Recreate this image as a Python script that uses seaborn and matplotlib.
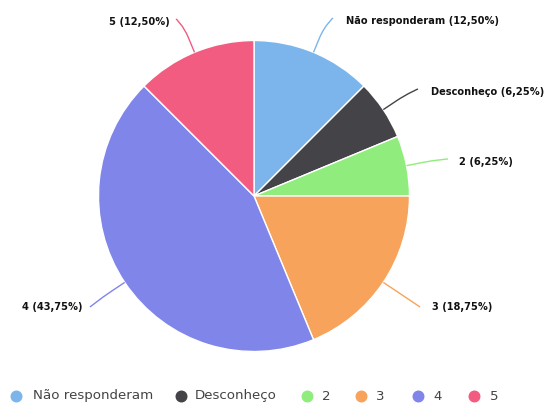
import matplotlib
matplotlib.use("Agg")
import matplotlib.pyplot as plt
from matplotlib.path import Path
from matplotlib.patches import PathPatch
from matplotlib.lines import Line2D
import numpy as np
import seaborn as sns

# ---- data ----
categories = ["Não responderam", "Desconheço", "2", "3", "4", "5"]
percentages = [12.5, 6.25, 6.25, 18.75, 43.75, 12.5]
colors_hex = ["#7cb5ec", "#434348", "#90ed7d", "#f7a35c", "#8085e9", "#f15c80"]

sns.set_theme(style="white")
plt.rcParams['font.family'] = ['DejaVu Sans']
palette = sns.color_palette(colors_hex)

W, H = 544, 403
fig = plt.figure(figsize=(W / 100, H / 100), dpi=100)
ax = fig.add_axes([0, 0, 1, 1])

def P(x, y):
    return (x, H - y)

cx, cy = 254, 196
R = 155.5
ax.pie(percentages, colors=palette, startangle=90, counterclock=False,
       center=P(cx, cy), radius=R,
       wedgeprops=dict(edgecolor="white", linewidth=1))
ax.set_xlim(0, W)
ax.set_ylim(0, H)
ax.set_aspect("equal")
ax.axis("off")

# label layout (pixel coords): connector anchor, text pos, alignment
anchors = [(333, 18), (418, 89), (448, 159), (420, 307), (90, 307), (176, 19)]
text_pos = [(346, 21), (431, 92), (459, 162), (432, 307), (83, 307), (170, 22)]
aligns = ["left", "left", "left", "left", "right", "right"]

total = sum(percentages)
start = 0.0
for i, v in enumerate(percentages):
    mid = start + v / total * 360 / 2
    start += v / total * 360
    a = np.deg2rad(mid)
    dx, dy = np.sin(a), -np.cos(a)
    E = (cx + R * dx, cy + R * dy)
    B = (cx + (R + 15) * dx, cy + (R + 15) * dy)
    L = anchors[i]
    C2 = (2 * B[0] - E[0], 2 * B[1] - E[1])
    verts = [P(*L), P(*L), P(*C2), P(*B), P(*E)]
    codes = [Path.MOVETO, Path.CURVE4, Path.CURVE4, Path.CURVE4, Path.LINETO]
    ax.add_patch(PathPatch(Path(verts, codes), facecolor="none",
                           edgecolor=palette[i], linewidth=1))
    pct = f"{v:.2f}".replace(".", ",")
    tx, ty = text_pos[i]
    ax.text(*P(tx, ty), f"{categories[i]} ({pct}%)", ha=aligns[i], va="center",
            fontsize=7.1, fontweight="bold", color="#111111")

# legend items (positions in pixels)
legend_marker_x = [15.6, 180.5, 307, 361, 418, 474]
legend_text_x = [33, 195, 322, 376, 433, 490]
legend_y = 396
for i, cat in enumerate(categories):
    ax.add_line(Line2D([legend_marker_x[i]], [H - legend_y], marker="o",
                       linestyle="none", markersize=7.6,
                       markerfacecolor=palette[i], markeredgecolor=palette[i],
                       clip_on=False))
    ax.text(legend_text_x[i], H - legend_y, cat, ha="left", va="center",
            fontsize=9.6, color="#444444")

fig.savefig("out.png", dpi=100)
